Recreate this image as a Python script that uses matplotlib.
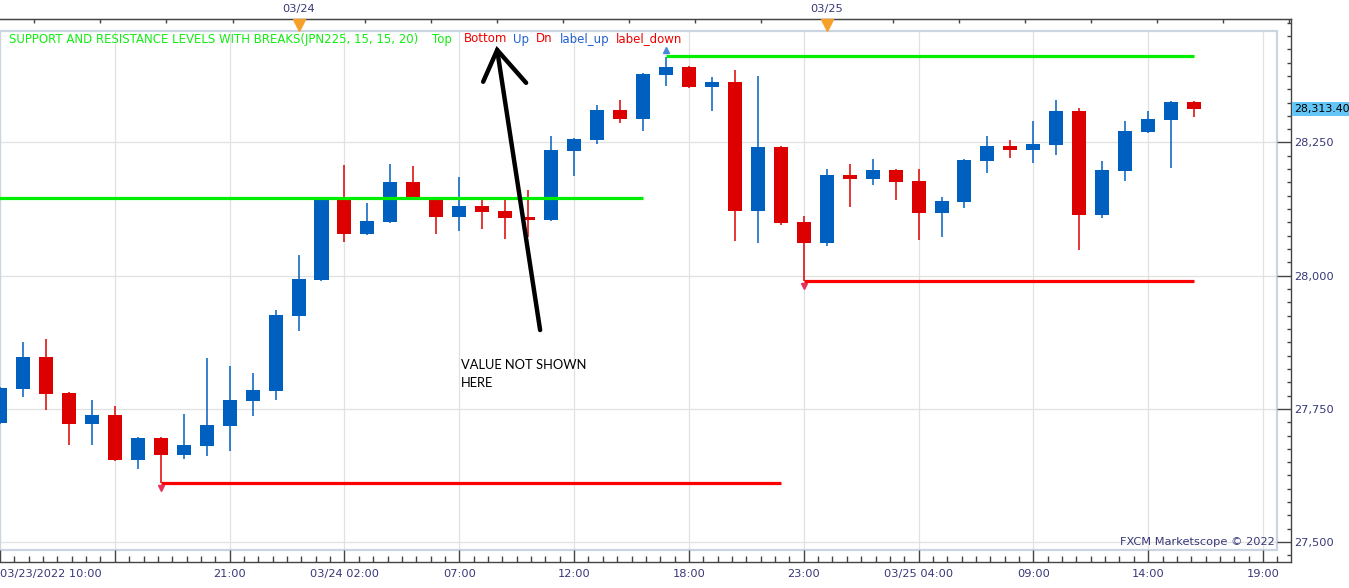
import matplotlib
matplotlib.use('Agg')
import matplotlib.pyplot as plt
import matplotlib.transforms as mtransforms
from matplotlib.patches import Rectangle
from matplotlib.ticker import MultipleLocator, FixedLocator
import numpy as np

# JPN225 hourly candles
opens = [27724, 27788, 27847, 27780, 27722, 27739, 27654, 27695, 27663, 27680,
         27718, 27765, 27784, 27924, 27992, 28146, 28078, 28101, 28176, 28146,
         28110, 28131, 28121, 28110, 28105, 28234, 28255, 28311, 28294, 28377,
         28392, 28354, 28364, 28121, 28242, 28101, 28061, 28189, 28181, 28198,
         28178, 28118, 28138, 28215, 28243, 28236, 28245, 28309, 28114, 28197,
         28270, 28292, 28326]
highs = [27792, 27876, 27881, 27782, 27767, 27755, 27697, 27697, 27740, 27846,
         27830, 27817, 27936, 28039, 28148, 28208, 28136, 28210, 28206, 28148,
         28185, 28142, 28142, 28161, 28262, 28258, 28320, 28330, 28380, 28410,
         28393, 28373, 28386, 28375, 28243, 28112, 28200, 28210, 28219, 28200,
         28200, 28148, 28219, 28262, 28255, 28290, 28330, 28315, 28215, 28290,
         28309, 28328, 28327]
lows = [27722, 27773, 27748, 27682, 27682, 27652, 27637, 27611, 27656, 27662,
        27671, 27737, 27767, 27896, 27990, 28063, 28077, 28099, 28145, 28078,
        28084, 28088, 28069, 28072, 28103, 28187, 28247, 28287, 28272, 28356,
        28353, 28309, 28065, 28061, 28095, 27990, 28056, 28129, 28170, 28142,
        28067, 28073, 28127, 28193, 28221, 28212, 28227, 28048, 28108, 28178,
        28268, 28202, 28298]
closes = [27789, 27847, 27778, 27722, 27739, 27654, 27695, 27663, 27682, 27720,
          27767, 27785, 27926, 27994, 28146, 28078, 28103, 28176, 28148, 28110,
          28131, 28120, 28108, 28105, 28236, 28257, 28311, 28294, 28379, 28392,
          28354, 28364, 28121, 28242, 28099, 28061, 28189, 28181, 28198, 28176,
          28118, 28140, 28217, 28243, 28236, 28247, 28309, 28114, 28198, 28272,
          28294, 28326, 28313.4]
last_price = 28313.40

# resistance (green) and support (red) levels: value, first bar, last bar
res_levels = [28146, 28412]
res_start = [-1, 29]
res_end = [28, 52]
sup_levels = [27611, 27990]
sup_start = [7, 35]
sup_end = [34, 52]
up_label_bars = [29]
down_label_bars = [7, 35]

bottom_ticks = [0, 5, 10, 15, 20, 25, 30, 35, 40, 45, 50, 55]
bottom_labels = ['03/23/2022 10:00', '', '21:00', '03/24 02:00', '07:00', '12:00',
                 '18:00', '23:00', '03/25 04:00', '09:00', '14:00', '19:00']
day_pos = [13, 36]
day_labels = ['03/24', '03/25']
price_ticks = [27500, 27750, 28000, 28250]

BLUE = '#0060c0'
RED = '#dc0000'
NAVY = '#383878'
GRID = '#e1e1e1'

W = 1291  # axes width in px
fig = plt.figure(figsize=(13.49, 5.88), dpi=100)
ax = fig.add_axes([0, 26 / 588, W / 1349, 543 / 588])
ax.set_xlim(0, W / 22.964)
ax.set_ylim(27462.6, 28481.8)

# inner frame + grid
in_r = 1277 / W
in_b = 12 / 543
in_t = 531 / 543
ax.add_patch(Rectangle((0, in_b), in_r, in_t - in_b, transform=ax.transAxes,
                       fill=False, ec='#cbd5e1', lw=1.6, zorder=1))
for xv in bottom_ticks:
    ax.axvline(xv, ymin=in_b, ymax=in_t, color=GRID, lw=0.9, zorder=0)
for yv in price_ticks:
    ax.axhline(yv, xmin=0, xmax=in_r, color=GRID, lw=0.9, zorder=0)

# candles
x = np.arange(len(opens))
o = np.array(opens, float)
h = np.array(highs, float)
l = np.array(lows, float)
c = np.array(closes, float)
cols = np.where(c >= o, BLUE, RED)
ax.vlines(x, l, h, colors=cols, lw=1.1, zorder=2)
ax.bar(x, np.maximum(np.abs(c - o), 1.5), bottom=np.minimum(o, c), width=0.61,
       color=cols, linewidth=0, zorder=3)

# levels
for lvl, s, e in zip(res_levels, res_start, res_end):
    ax.hlines(lvl, s, e, color='#00ee00', lw=2.3, zorder=4)
for lvl, s, e in zip(sup_levels, sup_start, sup_end):
    ax.hlines(lvl, s, e, color='#ff0000', lw=2.3, zorder=4)
ax.plot(up_label_bars, [h[i] + 14 for i in up_label_bars], ls='none', marker='^',
        ms=5, color='#4a86d8', zorder=5)
ax.plot(down_label_bars, [l[i] - 10 for i in down_label_bars], ls='none', marker='v',
        ms=5, color='#e8305a', zorder=5)

# hand drawn arrow + note
ax.plot([23.52, 21.65], [27898, 28423.6], color='black', lw=3.2,
        solid_capstyle='round', zorder=6)
ax.plot([21.04, 21.65, 22.91], [28364, 28423.6, 28362], color='black', lw=3.2,
        solid_capstyle='round', solid_joinstyle='miter', zorder=6)
ax.text(20.08, 27843, 'VALUE NOT SHOWN\nHERE', fontsize=9.3, family='Lato',
        va='top', ha='left', linespacing=1.6, color='black')

# legend line
leg = [('SUPPORT AND RESISTANCE LEVELS WITH BREAKS(JPN225, 15, 15, 20)', 9, '#11ee11'),
       ('Top', 432, '#11ee11'), ('Bottom', 464, '#ee0000'), ('Up', 513, '#2060d0'),
       ('Dn', 536, '#ee0000'), ('label_up', 560, '#2060d0'), ('label_down', 616, '#ee0000')]
for txt, px, col in leg:
    ax.text(px / W, 523 / 543, txt, transform=ax.transAxes, fontsize=8.45,
            color=col, va='center', ha='left')

ax.text(1275 / W, 20 / 543, 'FXCM Marketscope \u00a9 2022', transform=ax.transAxes,
        fontsize=8.2, color=NAVY, ha='right', va='center')

# axes styling
ax.spines['left'].set_visible(False)
for side in ['right', 'bottom', 'top']:
    ax.spines[side].set_color('#444444')
    ax.spines[side].set_linewidth(1)

ax.yaxis.tick_right()
ax.yaxis.set_major_locator(FixedLocator(price_ticks))
ax.yaxis.set_minor_locator(MultipleLocator(25))
ax.set_yticklabels([f'{v:,}' for v in price_ticks])
ax.tick_params(axis='y', which='major', direction='in', length=10, width=1,
               color='#444444', labelsize=8.2, labelcolor=NAVY, pad=2)
ax.tick_params(axis='y', which='minor', direction='in', length=3, width=1, color='#444444')

ax.set_xticks(bottom_ticks)
ax.set_xticklabels(bottom_labels)
ax.get_xticklabels()[0].set_ha('left')
ax.xaxis.set_minor_locator(MultipleLocator(0.625))
ax.tick_params(axis='x', which='major', direction='in', length=8.6, width=1,
               color='#444444', labelsize=8.2, labelcolor=NAVY, pad=5)
ax.tick_params(axis='x', which='minor', direction='in', length=4.3, width=1, color='#444444')

top = ax.secondary_xaxis('top')
top_pos = [day_pos[0] + 2.875 * k for k in range(-4, 16)]
top.set_xticks(top_pos)
top.set_xticklabels([day_labels[day_pos.index(round(p))] if round(p, 3) in day_pos else ''
                     for p in top_pos])
top.tick_params(axis='x', direction='in', length=2.9, width=1, color='#444444',
                labelsize=8.2, labelcolor=NAVY, pad=3.5)
top.spines['top'].set_color('#444444')

blend = mtransforms.blended_transform_factory(ax.transData, ax.transAxes)
ax.plot(day_pos, [537.5 / 543] * len(day_pos), transform=blend, ls='none', marker='v',
        ms=8, color='#f5a02a', clip_on=False, zorder=7)

# current price tag
blend_y = mtransforms.blended_transform_factory(ax.transAxes, ax.transData)
ax.text(1.0 + 3 / W, last_price, f'{last_price:,.2f}', transform=blend_y,
        fontsize=7.9, color='black', va='center', ha='left', clip_on=False,
        bbox=dict(boxstyle='square,pad=0.2', fc='#63c6f6', ec='none'))

fig.savefig('out.png', dpi=100)
